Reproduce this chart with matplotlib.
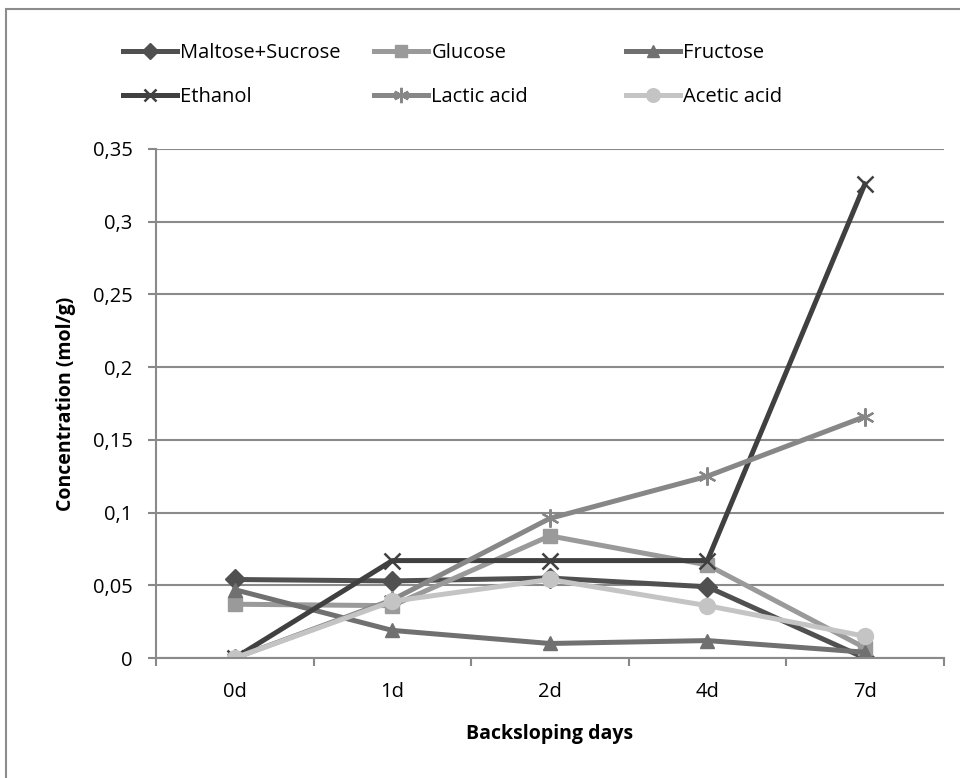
import numpy as np
import matplotlib
matplotlib.use("Agg")
import matplotlib.pyplot as plt
from matplotlib.ticker import FuncFormatter, MultipleLocator
from matplotlib.patches import Rectangle

plt.rcParams["font.family"] = ["Open Sans", "DejaVu Sans"]

days = ["0d", "1d", "2d", "4d", "7d"]
maltose_sucrose = [0.054, 0.053, 0.055, 0.049, 0.0]
glucose = [0.037, 0.036, 0.084, 0.064, 0.007]
fructose = [0.047, 0.019, 0.010, 0.012, 0.004]
ethanol = [0.0, 0.067, 0.067, 0.067, 0.326]
lactic_acid = [0.0, 0.040, 0.096, 0.125, 0.166]
acetic_acid = [0.0, 0.039, 0.054, 0.036, 0.015]

series = [
    ("Maltose+Sucrose", maltose_sucrose, "#505050", "D", 10),
    ("Glucose", glucose, "#9a9a9a", "s", 10),
    ("Fructose", fructose, "#707070", "^", 10),
    ("Ethanol", ethanol, "#404040", "x", 11),
    ("Lactic acid", lactic_acid, "#878787", "*", 13),
    ("Acetic acid", acetic_acid, "#c4c4c4", "o", 11.5),
]

fig = plt.figure(figsize=(9.6, 7.78), dpi=100)
fig.patches.append(Rectangle((0.006, -0.01), 1.2, 0.998, transform=fig.transFigure,
                             fill=False, edgecolor="#8c8c8c", linewidth=1.5))
ax = fig.add_axes([0.1625, 0.1542, 0.8205, 0.6543])

x = np.arange(len(days))
handles = []
for name, vals, col, mk, ms in series:
    if mk == "*":
        # asterisk marker: six thin arms
        h, = ax.plot(x, vals, color=col, lw=3.6, marker=(6, 2, 0), ms=ms,
                     mew=1.6, mec=col, label=name)
    elif mk == "x":
        h, = ax.plot(x, vals, color=col, lw=3.6, marker="x", ms=ms,
                     mew=1.8, mec=col, label=name)
    else:
        h, = ax.plot(x, vals, color=col, lw=3.6, marker=mk, ms=ms,
                     mec=col, mfc=col, label=name)
    handles.append(h)

ax.set_xlim(-0.5, 4.5)
ax.set_ylim(0, 0.35)
ax.yaxis.set_major_locator(MultipleLocator(0.05))
ax.yaxis.set_major_formatter(FuncFormatter(
    lambda v, p: "0" if abs(v) < 1e-9 else ("%.2f" % v).rstrip("0").replace(".", ",")))
ax.set_xticks(x)
ax.set_xticklabels(days)
ax.set_xticks(np.arange(-0.5, 4.6, 1), minor=True)
ax.tick_params(axis="x", which="major", length=0, pad=17, labelsize=14.5)
ax.tick_params(axis="x", which="minor", length=6, width=1.5, color="#888888")
ax.tick_params(axis="y", length=6, width=1.5, color="#888888", labelsize=14.5, pad=11)

ax.grid(axis="y", color="#8a8a8a", linewidth=1.5)
ax.set_axisbelow(True)
for s in ["top", "right"]:
    ax.spines[s].set_visible(False)
for s in ["left", "bottom"]:
    ax.spines[s].set_color("#8a8a8a")
    ax.spines[s].set_linewidth(1.5)

ax.set_ylabel("Concentration (mol/g)", fontsize=14, fontweight="bold", labelpad=12)
ax.set_xlabel("Backsloping days", fontsize=14, fontweight="bold", labelpad=16)

# legend laid out as three columns of two rows
col_x = [123 / 960, 374 / 960, 626 / 960]
for i, cx in enumerate(col_x):
    pair = [handles[i], handles[i + 3]]
    fig.legend(handles=pair, loc="center left", bbox_to_anchor=(cx, 1 - 75 / 778),
               frameon=False, fontsize=14.5, handlelength=2.7, handletextpad=0.15,
               borderpad=0, borderaxespad=0, labelspacing=1.2, markerscale=0.85)

fig.savefig("out.png", dpi=100)
